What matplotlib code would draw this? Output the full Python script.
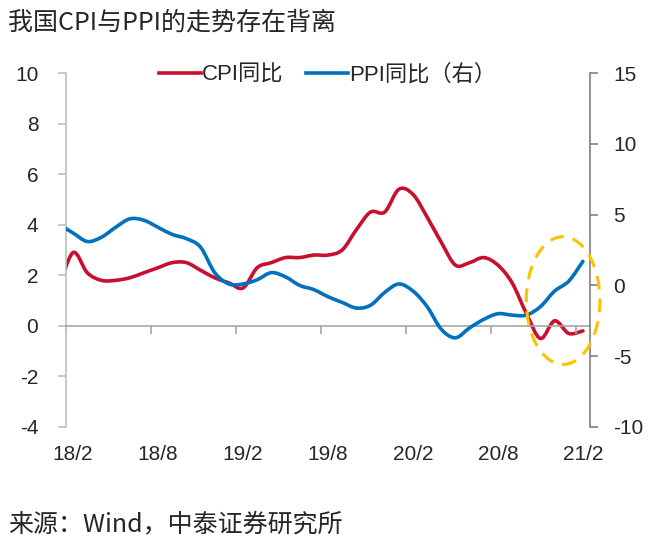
import numpy as np
import matplotlib.pyplot as plt
from matplotlib.path import Path
from matplotlib.patches import PathPatch, Ellipse

# monthly data, 18/1 .. 21/2 (18/1 sits just left of the axis and is clipped)
months = ["18/1", "18/2", "18/3", "18/4", "18/5", "18/6", "18/7", "18/8", "18/9", "18/10", "18/11", "18/12",
          "19/1", "19/2", "19/3", "19/4", "19/5", "19/6", "19/7", "19/8", "19/9", "19/10", "19/11", "19/12",
          "20/1", "20/2", "20/3", "20/4", "20/5", "20/6", "20/7", "20/8", "20/9", "20/10", "20/11", "20/12",
          "21/1", "21/2"]
cpi = [1.5, 2.9, 2.1, 1.8, 1.8, 1.9, 2.1, 2.3, 2.5, 2.5, 2.2, 1.9,
       1.7, 1.5, 2.3, 2.5, 2.7, 2.7, 2.8, 2.8, 3.0, 3.8, 4.5, 4.5,
       5.4, 5.2, 4.3, 3.3, 2.4, 2.5, 2.7, 2.4, 1.7, 0.5, -0.5, 0.2,
       -0.3, -0.2]
ppi = [4.3, 3.7, 3.1, 3.4, 4.1, 4.7, 4.6, 4.1, 3.6, 3.3, 2.7, 0.9,
       0.1, 0.1, 0.4, 0.9, 0.6, 0.0, -0.3, -0.8, -1.2, -1.6, -1.4, -0.5,
       0.1, -0.4, -1.5, -3.1, -3.7, -3.0, -2.4, -2.0, -2.1, -2.1, -1.5, -0.4,
       0.3, 1.7]
xlabels = ["18/2", "18/8", "19/2", "19/8", "20/2", "20/8", "21/2"]

RED = "#C8102E"
BLUE = "#0071C1"
GOLD = "#FFC000"
TXT = "#262626"

plt.rcParams["font.family"] = ["Liberation Sans", "Noto Sans CJK SC"]
plt.rcParams["axes.unicode_minus"] = False


def smooth_line(ax, x, y, **kw):
    # excel-style smoothed line drawn as cubic bezier segments
    x = np.asarray(x, float)
    y = np.asarray(y, float)
    n = len(x)
    verts = [(x[0], y[0])]
    codes = [Path.MOVETO]
    for i in range(n - 1):
        p0 = i - 1 if i > 0 else i
        p3 = i + 2 if i + 2 < n else i + 1
        c1 = (x[i] + (x[i + 1] - x[p0]) / 6, y[i] + (y[i + 1] - y[p0]) / 6)
        c2 = (x[i + 1] - (x[p3] - x[i]) / 6, y[i + 1] - (y[p3] - y[i]) / 6)
        verts += [c1, c2, (x[i + 1], y[i + 1])]
        codes += [Path.CURVE4] * 3
    patch = PathPatch(Path(verts, codes), fill=False, **kw)
    ax.add_patch(patch)
    return patch


fig = plt.figure(figsize=(6.59, 5.42), dpi=100)
ax = fig.add_axes([0.1002, 0.2122, 0.7951, 0.6531])
ax2 = ax.twinx()

xs = np.arange(len(months)) - 1  # 18/2 -> 0
smooth_line(ax, xs, cpi, edgecolor=RED, lw=2.6, capstyle="round", joinstyle="round")
smooth_line(ax2, xs, ppi, edgecolor=BLUE, lw=2.6, capstyle="round", joinstyle="round")

ax.set_xlim(-0.5, 36.5)
ax.set_ylim(-4, 10)
ax2.set_ylim(-10, 15)
ax.set_yticks(range(-4, 11, 2))
ax2.set_yticks(range(-10, 16, 5))

for a in (ax, ax2):
    a.spines["top"].set_visible(False)
    a.set_facecolor("none")
ax.spines["right"].set_visible(False)
ax2.spines["left"].set_visible(False)
ax2.spines["bottom"].set_visible(False)
ax.spines["left"].set_color("#BFBFBF")
ax.spines["left"].set_linewidth(1.2)
ax2.spines["right"].set_color("#7F7F7F")
ax2.spines["right"].set_linewidth(1.2)

# category axis crosses at zero, labels stay at the bottom
ax.spines["bottom"].set_position(("data", 0))
ax.spines["bottom"].set_color("#A6A6A6")
ax.spines["bottom"].set_linewidth(1.2)
ax.set_xticks(np.arange(-0.5, 36, 6))
ax.tick_params(axis="x", direction="out", length=6, width=1.2, color="#A6A6A6", labelbottom=False)
ax.tick_params(axis="y", direction="out", length=6, width=1.2, color="#BFBFBF",
               labelsize=15, labelcolor=TXT, pad=14)
ax2.tick_params(axis="y", direction="out", length=6, width=1.2, color="#7F7F7F",
                labelsize=15, labelcolor=TXT, pad=11)

for i, lbl in enumerate(xlabels):
    ax.annotate(lbl, (i * 6, 0), xycoords=ax.get_xaxis_transform(), xytext=(0, -13),
                textcoords="offset points", ha="center", va="top", fontsize=15, color=TXT)

# dashed highlight around the last months (right-axis units)
ax2.add_patch(Ellipse((34.6, (1.0 + 4) / 14 * 25 - 10), 5.2, 5.05 / 14 * 25, fill=False,
                      edgecolor=GOLD, lw=2.2, linestyle=(0, (4.5, 3)), clip_on=False, zorder=5))

# legend
h1, = ax.plot([], [], color=RED, lw=2.6, label="CPI同比")
h2, = ax.plot([], [], color=BLUE, lw=2.6, label="PPI同比（右）")
fig.legend(handles=[h1, h2], loc="center", bbox_to_anchor=(0.497, 0.862), ncol=2,
           frameon=False, fontsize=16, handlelength=1.9, handletextpad=0.05, columnspacing=1.0,
           labelcolor=TXT)

fig.text(0.012, 0.958, "我国CPI与PPI的走势存在背离", fontsize=18, color=TXT,
         family=["Noto Sans CJK SC", "DejaVu Sans"], va="center", ha="left")
fig.text(0.012, 0.033, "来源：Wind，中泰证券研究所", fontsize=18, color=TXT,
         family=["Noto Sans CJK SC", "DejaVu Sans"], va="center", ha="left")

fig.savefig("out.png", dpi=100)
